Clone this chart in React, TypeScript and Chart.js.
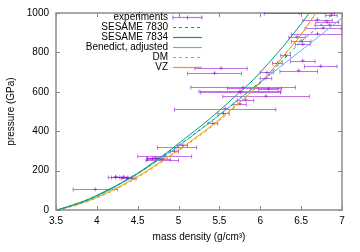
import React, { useEffect, useRef } from 'react';
import { Chart, registerables } from 'chart.js';

Chart.register(...registerables);

// ---------- axis ticks ----------
const xTicks = [3.5, 4, 4.5, 5, 5.5, 6, 6.5, 7];
const yTicks = [0, 200, 400, 600, 800, 1000];

// ---------- experiments (density, pressure, horizontal error) ----------
const expRho = [3.98, 4.23, 4.28, 4.33, 4.38, 4.42, 4.83, 4.72, 4.76, 4.8, 4.68, 4.98, 5.52, 5.44, 5.79, 5.93, 6.1, 5.75, 5.76, 6.07, 5.57, 6.48, 6.87, 6.7, 6.82, 6.85, 6.77, 6.7, 6.45, 6.5, 6.52, 6.31, 6.52, 6.21, 6.74, 6.47, 6.08, 6.07, 5.82, 5.75, 5.55, 5.42, 5.05, 4.95];
const expP = [105, 170, 166, 168, 160, 163, 275, 266, 259, 255, 262, 318, 720, 695, 622, 618, 615, 602, 597, 578, 515, 1000, 990, 967, 955, 940, 925, 895, 880, 858, 842, 787, 758, 745, 730, 708, 698, 668, 560, 540, 490, 440, 330, 300];
const expErr = [0.27, 0.09, 0.1, 0.1, 0.08, 0.06, 0.33, 0.1, 0.14, 0.2, 0.07, 0.24, 0.32, 0.33, 0.64, 0.33, 0.12, 0.5, 0.49, 0.53, 0.62, 0.43, 0.07, 0.18, 0.14, 0.18, 0.22, 0.32, 0.1, 0.12, 0.09, 0.06, 0.15, 0.06, 0.2, 0.23, 0.08, 0.07, 0.1, 0.08, 0.07, 0.06, 0.06, 0.05];

// ---------- model curves ----------
const s7830Rho = [3.515, 3.7, 3.9, 4.1, 4.3, 4.5, 4.7, 4.9, 5.1, 5.3, 5.5, 5.7, 5.9, 6.1, 6.3, 6.5, 6.7, 6.9];
const s7830P = [0, 24, 53, 91, 137, 186, 241, 298, 358, 420, 484, 550, 617, 685, 770, 855, 925, 1000];

const s7834Rho = [3.515, 3.7, 3.9, 4.1, 4.3, 4.5, 4.7, 4.9, 5.1, 5.3, 5.5, 5.7, 5.9, 6.1, 6.3, 6.5, 6.6];
const s7834P = [0, 25, 55, 95, 138, 187, 245, 305, 370, 435, 505, 580, 655, 745, 840, 945, 1000];

const benRho = [3.515, 3.7, 3.9, 4.1, 4.3, 4.5, 4.7, 4.9, 5.1, 5.3, 5.5, 5.7, 5.9, 6.1, 6.3, 6.5, 6.7, 7.0];
const benP = [0, 23, 52, 90, 135, 183, 238, 295, 355, 418, 482, 548, 615, 680, 745, 810, 875, 975];

const dmRho = [3.515, 3.7, 3.9, 4.1, 4.3, 4.5, 4.7, 4.9, 5.1, 5.3, 5.5, 5.7, 5.9, 6.1, 6.3, 6.5, 6.68];
const dmP = [0, 19, 45, 79, 120, 165, 217, 272, 330, 390, 455, 525, 600, 688, 790, 893, 1000];

const vzRho = [3.515, 3.7, 3.9, 4.1, 4.3, 4.5, 4.7, 4.9, 5.1, 5.3, 5.5, 5.7, 5.9, 6.1, 6.3, 6.5, 6.68];
const vzP = [0, 20, 47, 82, 124, 170, 222, 278, 335, 395, 460, 530, 605, 690, 790, 890, 1000];

const legendLabels = ['experiments', 'SESAME 7830', 'SESAME 7834', 'Benedict, adjusted', 'DM', 'VZ'];

const EXP_COLOR = 'rgba(148,0,211,0.55)';
const TEAL = '#009e73';
const BLUE = '#56b4e9';
const ORANGE = '#e69f00';
const FONT = 'Liberation Sans, Arial, sans-serif';

const pts = (xs: number[], ys: number[]) => xs.map((x, i) => ({ x, y: ys[i] }));

const framePlugin = {
  id: 'frame',
  beforeDatasetsDraw(chart: any) {
    const { ctx, chartArea: a, scales } = chart;
    ctx.save();
    ctx.strokeStyle = '#8c8c8c';
    ctx.lineWidth = 1;
    const tl = 4;
    ctx.beginPath();
    for (const v of xTicks) {
      const px = Math.round(scales.x.getPixelForValue(v)) + 0.5;
      ctx.moveTo(px, a.bottom); ctx.lineTo(px, a.bottom - tl);
      ctx.moveTo(px, a.top); ctx.lineTo(px, a.top + tl);
    }
    for (const v of yTicks) {
      const py = Math.round(scales.y.getPixelForValue(v)) + 0.5;
      ctx.moveTo(a.left, py); ctx.lineTo(a.left + tl, py);
      ctx.moveTo(a.right, py); ctx.lineTo(a.right - tl, py);
    }
    ctx.stroke();
    ctx.lineWidth = 1.5;
    ctx.strokeRect(a.left, a.top, a.right - a.left, a.bottom - a.top);
    // horizontal error bars
    ctx.beginPath();
    ctx.rect(a.left, a.top - 1, a.right - a.left, a.bottom - a.top + 2);
    ctx.clip();
    ctx.strokeStyle = EXP_COLOR;
    ctx.lineWidth = 1;
    for (let i = 0; i < expRho.length; i++) {
      const x0 = scales.x.getPixelForValue(expRho[i] - expErr[i]);
      const x1 = scales.x.getPixelForValue(expRho[i] + expErr[i]);
      const y = Math.round(scales.y.getPixelForValue(expP[i])) + 0.5;
      ctx.beginPath();
      ctx.moveTo(x0, y); ctx.lineTo(x1, y);
      ctx.moveTo(x0, y - 2); ctx.lineTo(x0, y + 2);
      ctx.moveTo(x1, y - 2); ctx.lineTo(x1, y + 2);
      ctx.stroke();
    }
    ctx.restore();
  },
};

const legendPlugin = {
  id: 'customLegend',
  afterDraw(chart: any) {
    const { ctx } = chart;
    ctx.save();
    ctx.globalAlpha = 1;
    ctx.font = `10px ${FONT}`;
    ctx.fillStyle = '#000';
    ctx.textAlign = 'right';
    ctx.textBaseline = 'middle';
    const tx = 168, sx0 = 173, sx1 = 202;
    const rows = [17.5, 27.5, 37.5, 47.5, 57.5, 67.5];
    const styles = [
      { c: EXP_COLOR, d: [] as number[] },
      { c: TEAL, d: [3, 3] },
      { c: TEAL, d: [] as number[] },
      { c: BLUE, d: [] as number[] },
      { c: ORANGE, d: [3, 3] },
      { c: ORANGE, d: [] as number[] },
    ];
    rows.forEach((y, i) => {
      ctx.setLineDash([]);
      ctx.fillStyle = '#000';
      ctx.fillText(legendLabels[i], tx, y);
      ctx.strokeStyle = styles[i].c;
      ctx.lineWidth = 1.2;
      ctx.setLineDash(styles[i].d);
      ctx.beginPath();
      ctx.moveTo(sx0, y); ctx.lineTo(sx1, y);
      ctx.stroke();
      if (i === 0) {
        ctx.setLineDash([]);
        ctx.beginPath();
        ctx.moveTo(sx0, y - 2); ctx.lineTo(sx0, y + 2);
        ctx.moveTo(sx1, y - 2); ctx.lineTo(sx1, y + 2);
        const cx = (sx0 + sx1) / 2;
        ctx.moveTo(cx, y - 2); ctx.lineTo(cx, y + 2);
        ctx.stroke();
      }
    });
    ctx.restore();
  },
};

const lineDs = (label: string, xs: number[], ys: number[], color: string, dash: number[]) => ({
  type: 'line' as const,
  label,
  data: pts(xs, ys),
  borderColor: color,
  backgroundColor: color,
  borderWidth: 1,
  borderDash: dash,
  pointRadius: 0,
  cubicInterpolationMode: 'monotone' as const,
  fill: false,
  order: 1,
});

export default function App() {
  const ref = useRef<HTMLCanvasElement>(null);
  useEffect(() => {
    const chart = new Chart(ref.current as HTMLCanvasElement, {
      type: 'scatter',
      data: {
        datasets: [
          {
            label: legendLabels[0],
            data: pts(expRho, expP),
            pointStyle: 'cross',
            pointRadius: 2,
            borderColor: EXP_COLOR,
            backgroundColor: EXP_COLOR,
            borderWidth: 1,
            order: 5,
          } as any,
          lineDs(legendLabels[1], s7830Rho, s7830P, TEAL, [3, 3]),
          lineDs(legendLabels[2], s7834Rho, s7834P, TEAL, []),
          lineDs(legendLabels[3], benRho, benP, BLUE, []),
          lineDs(legendLabels[4], dmRho, dmP, ORANGE, [3, 3]),
          lineDs(legendLabels[5], vzRho, vzP, ORANGE, []),
        ],
      },
      options: {
        responsive: false,
        devicePixelRatio: 1,
        animation: false,
        layout: { padding: { top: 10, right: 18, left: 0, bottom: 0 } },
        plugins: { legend: { display: false }, tooltip: { enabled: false } },
        scales: {
          x: {
            type: 'linear',
            min: 3.5,
            max: 7,
            afterBuildTicks: (s: any) => { s.ticks = xTicks.map((v) => ({ value: v })); },
            afterFit: (s: any) => { s.height = 42; },
            grid: { display: false, drawTicks: false },
            border: { display: false },
            ticks: { padding: 5, color: '#000', font: { family: FONT, size: 10 }, maxRotation: 0, autoSkip: false, callback: (v: any) => String(v) },
            title: { display: true, text: 'mass density (g/cm³)', color: '#000', font: { family: FONT, size: 10 }, padding: { top: 0, bottom: 9 } },
          },
          y: {
            type: 'linear',
            min: 0,
            max: 1000,
            afterBuildTicks: (s: any) => { s.ticks = yTicks.map((v) => ({ value: v })); },
            afterFit: (s: any) => { s.width = 56; },
            grid: { display: false, drawTicks: false },
            border: { display: false },
            ticks: { padding: 7, color: '#000', font: { family: FONT, size: 10 }, autoSkip: false, callback: (v: any) => String(v) },
            title: { display: true, text: 'pressure (GPa)', color: '#000', font: { family: FONT, size: 10 }, padding: { top: 5, bottom: 0 } },
          },
        },
      },
      plugins: [framePlugin, legendPlugin],
    });
    return () => chart.destroy();
  }, []);
  return (
    <div style={{ position: 'fixed', left: 0, top: 0, width: 360, height: 252, background: '#fff' }}>
      <canvas ref={ref} width={360} height={252} style={{ width: 360, height: 252, display: 'block' }} />
    </div>
  );
}
